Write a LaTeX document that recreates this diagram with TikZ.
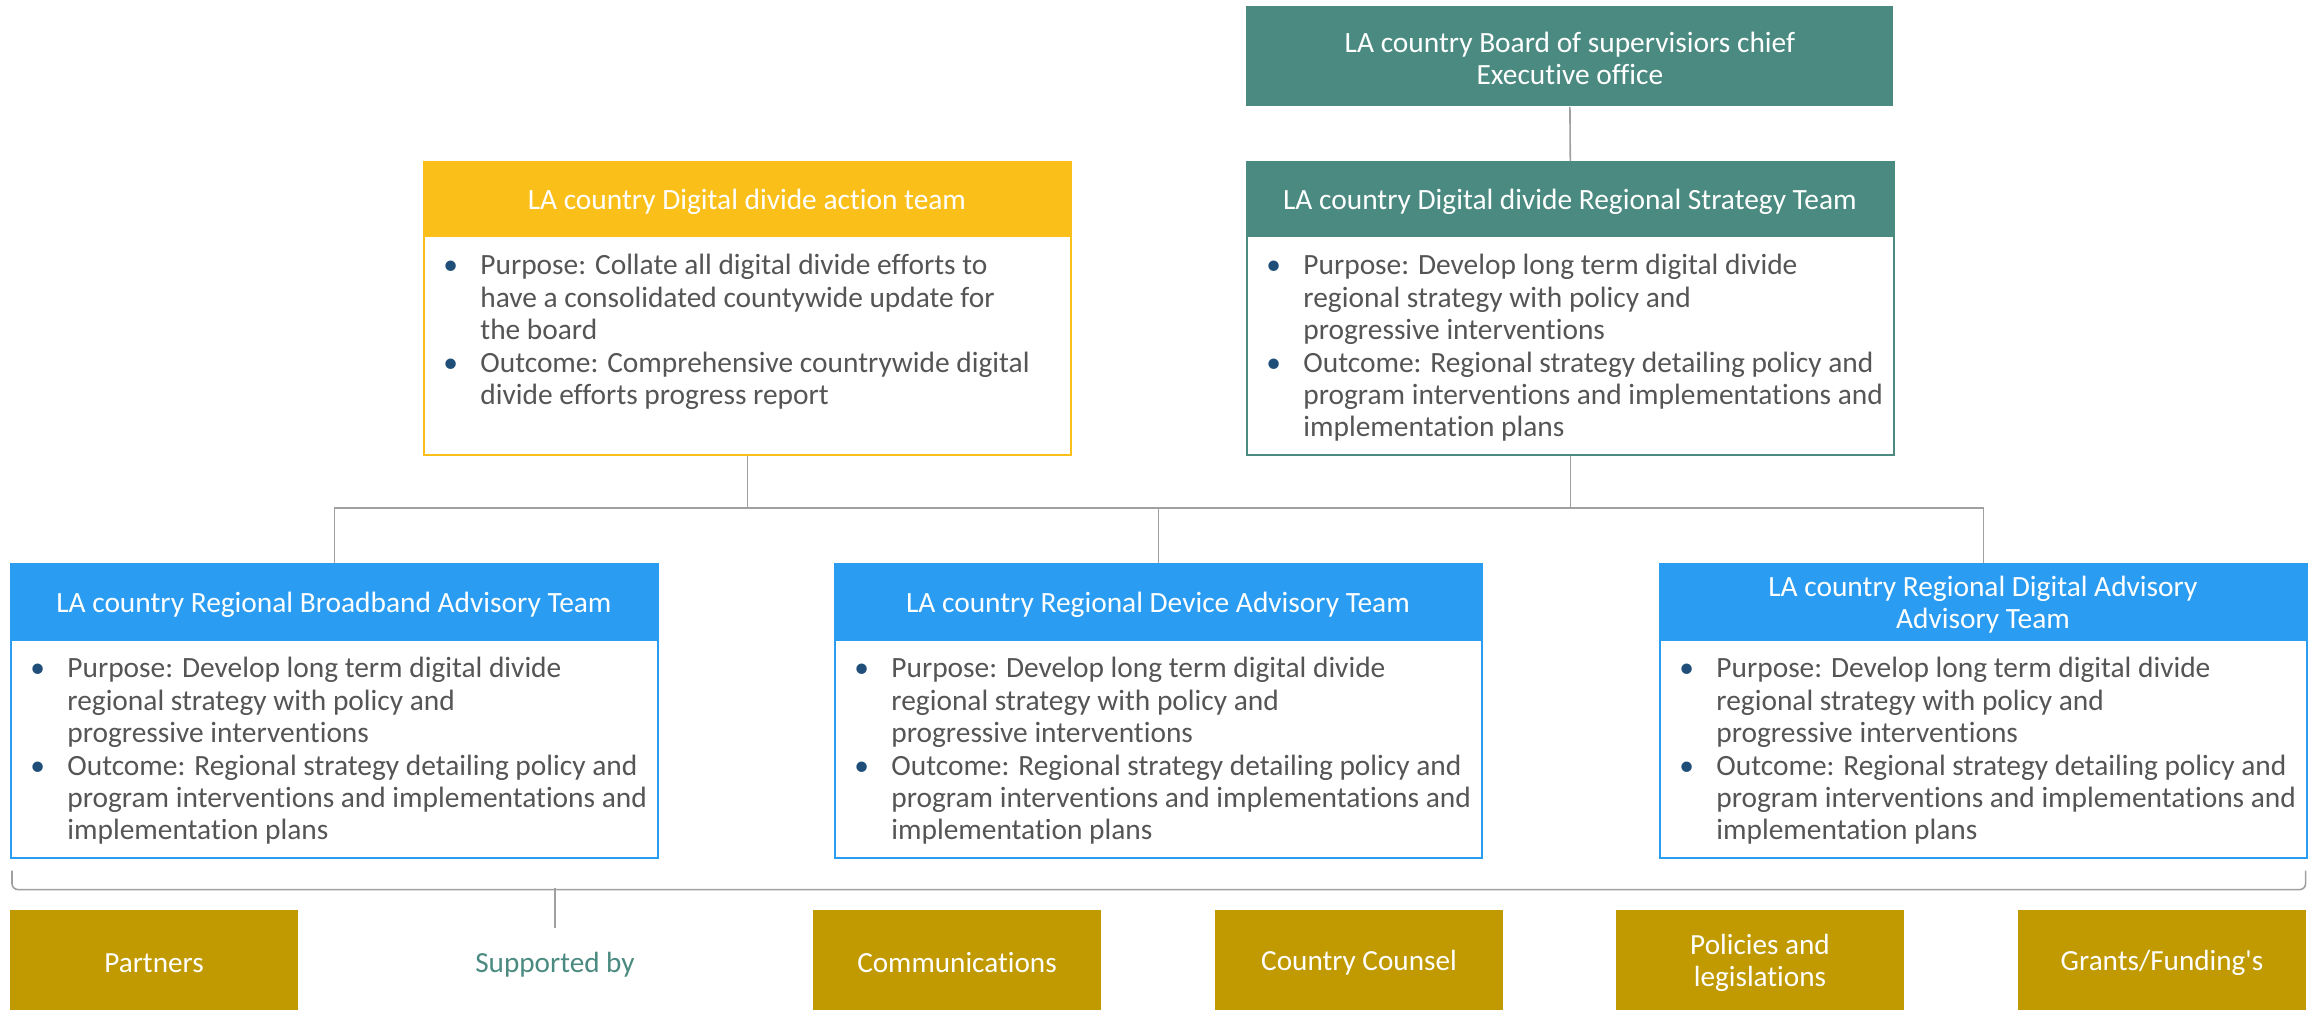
\documentclass[tikz,border=0pt]{standalone}
\usepackage{fontspec}
\setmainfont{Carlito}[Ligatures={TeX,NoCommon}]
\definecolor{tealc}{HTML}{4A8A80}
\definecolor{yell}{HTML}{FBBF1A}
\definecolor{bluec}{HTML}{2A9CF2}
\definecolor{goldc}{HTML}{C09A00}
\definecolor{txt}{HTML}{555555}
\definecolor{bul}{HTML}{1F4E79}
\definecolor{conn}{HTML}{A0A0A0}
\newcommand{\bl}{\textcolor{bul}{\textbullet}}
\newcommand{\bodyfont}{\fontsize{14.7}{16.2}\selectfont}
\newcommand{\strat}{%
\begin{tabular}{@{}p{18.5pt}@{}l@{}}
\bl & Purpose: Develop long term digital divide\\
 & regional strategy with policy and\\
 & progressive interventions\\
\bl & Outcome: Regional strategy detailing policy and\\
 & program interventions and implementations and\\
 & implementation plans
\end{tabular}}
\newcommand{\actiontxt}{%
\begin{tabular}{@{}p{18.5pt}@{}l@{}}
\bl & Purpose: Collate all digital divide efforts to\\
 & have a consolidated countywide update for\\
 & the board\\
\bl & Outcome: Comprehensive countrywide digital\\
 & divide efforts progress report
\end{tabular}}
\tikzset{
  card/.style={draw=#1, line width=0.8pt, fill=white, anchor=north west,
    minimum width=323.5pt, inner sep=0pt},
  hdr/.style={fill=#1, anchor=north west, minimum width=323.5pt, text=white,
    font=\fontsize{14.7}{16.2}\selectfont, align=center, inner sep=0pt},
  htxt/.style={text=white, font=\fontsize{14.7}{16.2}\selectfont, align=center, inner sep=0pt},
  bodytxt/.style={anchor=north west, inner sep=0pt, text=txt, font=\bodyfont},
  conn/.style={draw=conn, line width=0.8pt},
  sup/.style={fill=goldc, text=white, minimum width=144pt, minimum height=50pt,
    inner sep=0pt, align=center, font=\fontsize{14.6}{16.2}\selectfont}
}
\begin{document}
\begin{tikzpicture}[x=0.5pt,y=-0.5pt]
\useasboundingbox (0,0) rectangle (2310,1010);
% top
\node[hdr=tealc, minimum height=50pt] (board) at (1246,6) {};
\node[htxt] (boardt) at ([yshift=-1pt]board.center) {LA country Board of supervisiors chief\\Executive office};
% action team
\node[card=yell, minimum height=146.5pt] (action) at (423,161) {};
\node[hdr=yell, minimum height=38pt] (actionh) at (action.north west) {};
\node[htxt] (actiont) at ([yshift=-1pt]actionh.center) {LA country Digital divide action team};
\node[bodytxt] (actionb) at ([xshift=10pt,yshift=-7pt]actionh.south west) {\actiontxt};
% strategy team
\node[card=tealc, minimum height=146.5pt] (strategy) at (1246,161) {};
\node[hdr=tealc, minimum height=38pt] (strategyh) at (strategy.north west) {};
\node[htxt] (strategyt) at ([yshift=-1pt]strategyh.center) {LA country Digital divide Regional Strategy Team};
\node[bodytxt] (strategyb) at ([xshift=10pt,yshift=-7pt]strategyh.south west) {\strat};
% bottom cards
\node[card=bluec, minimum height=147pt] (bb) at (10,563) {};
\node[hdr=bluec, minimum height=39pt] (bbh) at (bb.north west) {};
\node[htxt] (bbt) at ([yshift=-1pt]bbh.center) {LA country Regional Broadband Advisory Team};
\node[bodytxt] (bbb) at ([xshift=10pt,yshift=-6.5pt]bbh.south west) {\strat};
\node[card=bluec, minimum height=147pt] (dv) at (834,563) {};
\node[hdr=bluec, minimum height=39pt] (dvh) at (dv.north west) {};
\node[htxt] (dvt) at ([yshift=-1pt]dvh.center) {LA country Regional Device Advisory Team};
\node[bodytxt] (dvb) at ([xshift=10pt,yshift=-6.5pt]dvh.south west) {\strat};
\node[card=bluec, minimum height=147pt] (dg) at (1659,563) {};
\node[hdr=bluec, minimum height=39pt] (dgh) at (dg.north west) {};
\node[htxt] (dgt) at ([yshift=-1pt]dgh.center) {LA country Regional Digital Advisory\\Advisory Team};
\node[bodytxt] (dgb) at ([xshift=10pt,yshift=-6.5pt]dgh.south west) {\strat};
% connectors
\coordinate (bus) at (0,508);
\draw[conn] (board.south) -- (strategy.north);
\draw[conn] (action.south) -- (action.south |- bus);
\draw[conn] (strategy.south) -- (strategy.south |- bus);
\draw[conn] (bb.north) -- (bb.north |- bus) -- (dg.north |- bus) -- (dg.north);
\draw[conn] (dv.north) -- (dv.north |- bus);
% bracket
\draw[conn, rounded corners=3pt] ([xshift=1pt,yshift=-6pt]bb.south west) -- ++(0,-9.5pt) -| ([xshift=-1pt,yshift=-6pt]dg.south east);
\coordinate (brM) at (555,888);
\coordinate (supTop) at (555,928);
\draw[conn] (brM) -- (supTop);
\node[text=tealc, font=\fontsize{14.6}{16.2}\selectfont] (supby) at (555,965) {Supported by};
% bottom boxes
\node[sup] (partners) at (154,960) {};
\node[htxt, font=\fontsize{14.6}{16.2}\selectfont] at ([yshift=-1.5pt]partners.center) {Partners};
\node[sup] (comm) at (957,960) {};
\node[htxt, font=\fontsize{14.6}{16.2}\selectfont] at ([yshift=-1.5pt]comm.center) {Communications};
\node[sup] (counsel) at (1359,960) {};
\node[htxt, font=\fontsize{14.6}{16.2}\selectfont] at ([yshift=-1.5pt]counsel.center) {Country Counsel};
\node[sup] (policies) at (1760,960) {};
\node[htxt, font=\fontsize{14.6}{16.2}\selectfont] at ([yshift=-1.5pt]policies.center) {Policies and\\legislations};
\node[sup] (grants) at (2162,960) {};
\node[htxt, font=\fontsize{14.6}{16.2}\selectfont] at ([yshift=-1.5pt]grants.center) {Grants/Funding\textquotesingle s};
\end{tikzpicture}
\end{document}
